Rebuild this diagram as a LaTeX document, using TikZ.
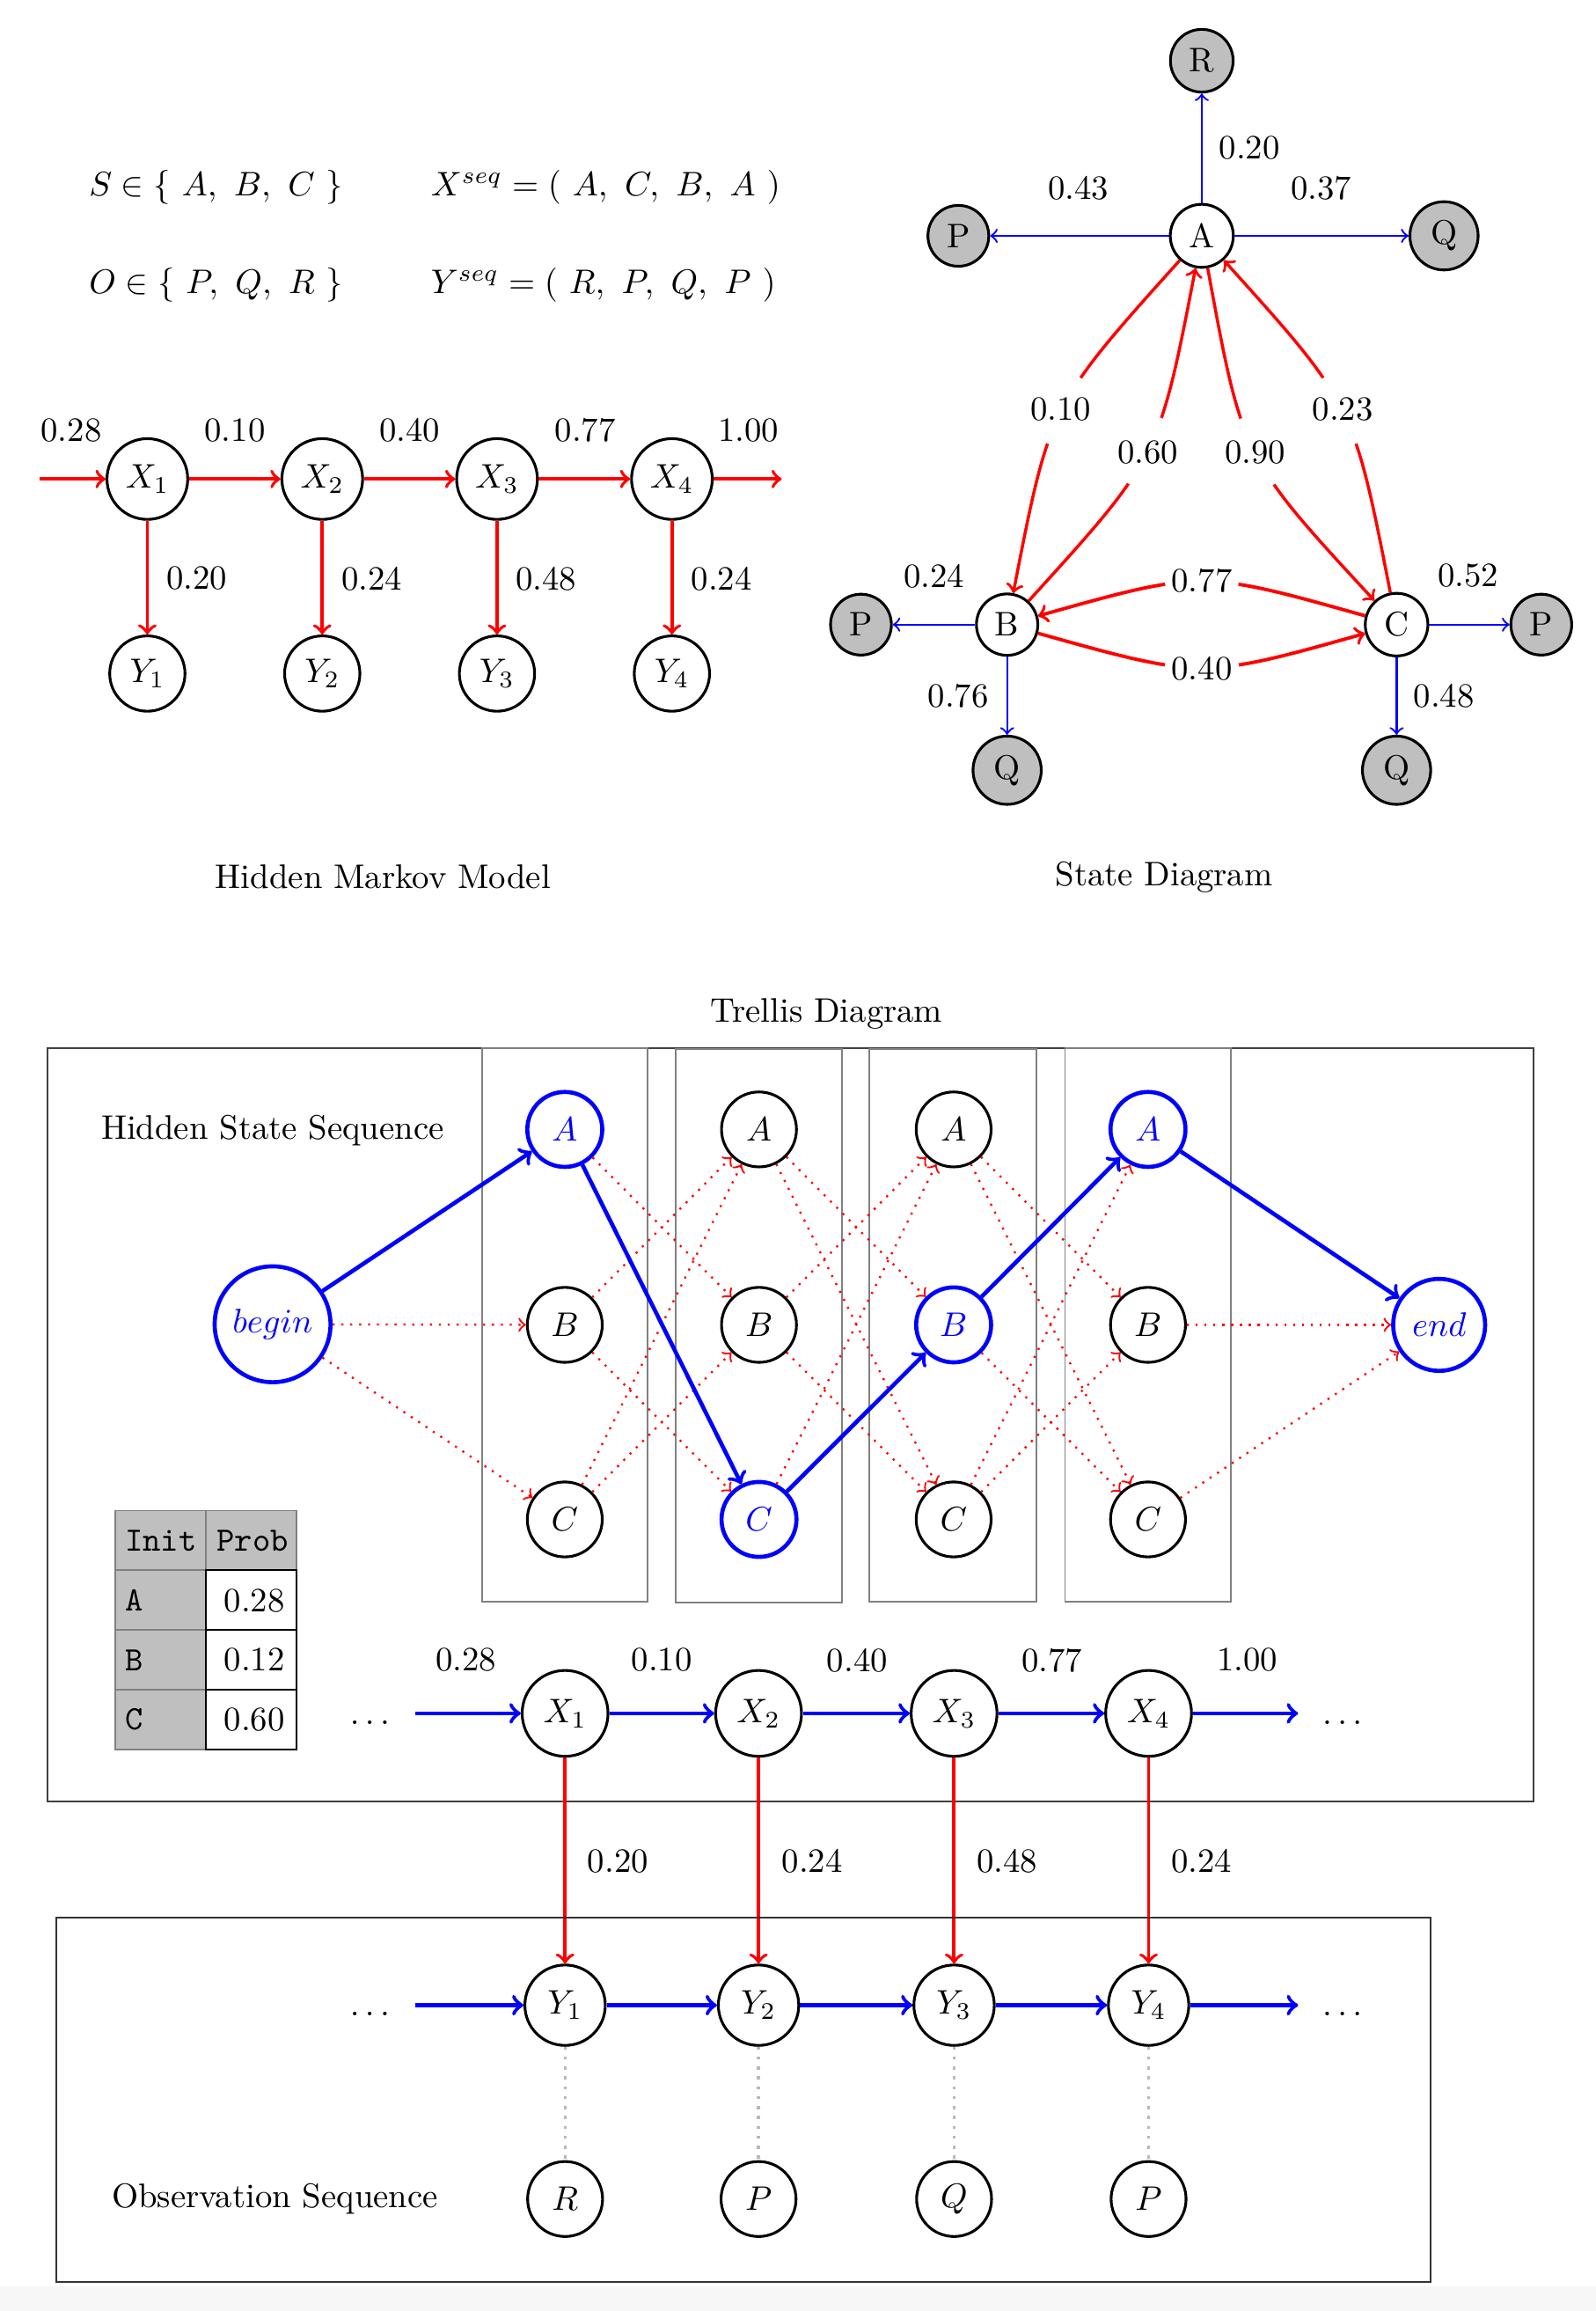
\documentclass[tikz,border=0pt]{standalone}
\begin{document}
\begin{tikzpicture}[x=0.4325pt,y=-0.4325pt,
  hx/.style={circle,draw,thick,minimum size=23.7pt,inner sep=0pt},
  hy/.style={circle,draw,thick,minimum size=22.1pt,inner sep=0pt},
  sd/.style={circle,draw,thick,inner sep=2.9pt},
  sg/.style={sd,fill=lightgray},
  tn/.style={circle,draw,thick,minimum size=22pt,inner sep=0pt},
  tb/.style={tn,draw=blue,text=blue,line width=1.2pt},
  tx/.style={circle,draw,thick,minimum size=25.2pt,inner sep=0pt},
  ty/.style={circle,draw,thick,minimum size=23.6pt,inner sep=0pt},
  redarr/.style={->,red,line width=1pt},
  sblue/.style={->,blue,semithick},
  tblue/.style={->,blue,line width=1.2pt},
  dotarr/.style={->,red,dotted,semithick},
  clbl/.style={circle,fill=white,inner sep=1pt},
  colbox/.style={draw=gray,line width=0.5pt},
  obsline/.style={gray!55,dotted,line width=0.9pt},
  eqn/.style={anchor=base west,inner sep=0pt},
  dotsn/.style={inner sep=0pt},
]
\useasboundingbox (0,0) rectangle (1083,1568);
\fill[black!3] (0,1551) rectangle (1083,1568);

% ---------- equations ----------
\node[eqn] (eqS) at (60,133) {$S \in \{\ A,\ B,\ C\ \}$};
\node[eqn] (eqX) at (292,133) {$X^{seq} = (\ A,\ C,\ B,\ A\ )$};
\node[eqn] (eqO) at (60,199) {$O \in \{\ P,\ Q,\ R\ \}$};
\node[eqn] (eqY) at (292,199) {$Y^{seq} = (\ R,\ P,\ Q,\ P\ )$};

% ---------- Hidden Markov Model ----------
\foreach \i/\x in {1/100,2/218.7,3/337.3,4/456} {
  \node[hx] (hX\i) at (\x,325) {$X_\i$};
  \node[hy] (hY\i) at (\x,457) {$Y_\i$};
}
\coordinate (hs) at (26.7,325);
\coordinate (he) at (530.5,325);
\draw[redarr] (hs) -- (hX1);
\foreach \i/\j in {1/2,2/3,3/4} \draw[redarr] (hX\i) -- (hX\j);
\draw[redarr] (hX4) -- (he);
\foreach \i in {1,...,4} \draw[redarr] (hX\i) -- (hY\i);
\foreach \x/\lab [count=\k] in {48.4/0.28,159.4/0.10,278/0.40,397.2/0.77,508/1.00}
  \node (hlt\k) at (\x,292) {\lab};
\foreach \x/\lab [count=\k] in {133.6/0.20,252.4/0.24,370.5/0.48,489.8/0.24}
  \node (hlv\k) at (\x,392.5) {\lab};
\node (hmmtitle) at (260,595) {Hidden Markov Model};

% ---------- State Diagram ----------
\node[sd] (sA) at (815.6,160) {A};
\node[sg] (sR) at (815.6,41.2) {R};
\node[sg] (sPA) at (650.4,160) {P};
\node[sg] (sQA) at (980,160) {Q};
\node[sd] (sB) at (683.5,423.8) {B};
\node[sd] (sC) at (947.8,423.8) {C};
\node[sg] (sPB) at (584.3,423.8) {P};
\node[sg] (sQB) at (683.5,522.6) {Q};
\node[sg] (sPC) at (1046,423.8) {P};
\node[sg] (sQC) at (947.8,522.6) {Q};

\draw[sblue] (sA) -- (sR);
\draw[sblue] (sA) -- (sPA);
\draw[sblue] (sA) -- (sQA);
\draw[sblue] (sB) -- (sPB);
\draw[sblue] (sB) -- (sQB);
\draw[sblue] (sC) -- (sPC);
\draw[sblue] (sC) -- (sQC);
\node (slAR) at (848,100.5) {0.20};
\node (slAP) at (732,127.4) {0.43};
\node (slAQ) at (896.7,127.4) {0.37};
\node (slBP) at (634,390.7) {0.24};
\node (slBQ) at (650.4,472.4) {0.76};
\node (slCP) at (996.5,390.7) {0.52};
\node (slCQ) at (979.9,472.4) {0.48};

\draw[redarr,line width=0.9pt] (sA) .. controls (712.5,274.7) .. (sB);
\draw[redarr,line width=0.9pt] (sB) .. controls (786.5,310.5) .. (sA);
\draw[redarr,line width=0.9pt] (sA) .. controls (843.3,310.8) .. (sC);
\draw[redarr,line width=0.9pt] (sC) .. controls (918.5,274.1) .. (sA);
\draw[redarr] (sC) .. controls (815.6,386.7) .. (sB);
\draw[redarr] (sB) .. controls (815.8,460.8) .. (sC);
\node[clbl] (slAB) at (720,277.6) {0.10};
\node[clbl] (slBA) at (779,306.9) {0.60};
\node[clbl] (slAC) at (852,307) {0.90};
\node[clbl] (slCA) at (911.3,277.6) {0.23};
\node[clbl] (slCB) at (815.6,393.8) {0.77};
\node[clbl] (slBC) at (815.6,453.5) {0.40};
\node (sdtitle) at (790,595) {State Diagram};

% ---------- Trellis Diagram ----------
\node (trtitle) at (561,688) {Trellis Diagram};
\draw[black!75,line width=0.5pt] (32.5,711) rectangle (1040.5,1222.5);
\draw[colbox] (327.3,711) rectangle (439.7,1086.6);
\draw[colbox] (458.5,711.6) rectangle (571.4,1087.2);
\draw[colbox] (590.2,711.6) rectangle (703.6,1086.6);
\draw[colbox] (722.8,711) rectangle (835.5,1086.6);

\node (hss) at (185,767) {Hidden State Sequence};

\node[tb] (tA1) at (383.3,766.3) {$A$};
\node[tn] (tB1) at (383.3,898.9) {$B$};
\node[tn] (tC1) at (383.3,1030.9) {$C$};
\node[tn] (tA2) at (515.1,766.3) {$A$};
\node[tn] (tB2) at (515.1,898.9) {$B$};
\node[tb] (tC2) at (515.1,1030.9) {$C$};
\node[tn] (tA3) at (647.2,766.3) {$A$};
\node[tb] (tB3) at (647.2,898.9) {$B$};
\node[tn] (tC3) at (647.2,1030.9) {$C$};
\node[tb] (tA4) at (779.1,766.3) {$A$};
\node[tn] (tB4) at (779.1,898.9) {$B$};
\node[tn] (tC4) at (779.1,1030.9) {$C$};
\node[tb,minimum size=34pt] (tbegin) at (185,898.5) {$begin$};
\node[tb,minimum size=27pt] (tend) at (976.7,898.9) {$end$};

\draw[dotarr] (tbegin) -- (tB1);
\draw[dotarr] (tbegin) -- (tC1);
\draw[dotarr] (tA1) -- (tB2);
\draw[dotarr] (tB1) -- (tA2);
\draw[dotarr] (tB1) -- (tC2);
\draw[dotarr] (tC1) -- (tA2);
\draw[dotarr] (tC1) -- (tB2);
\draw[dotarr] (tA2) -- (tB3);
\draw[dotarr] (tA2) -- (tC3);
\draw[dotarr] (tB2) -- (tA3);
\draw[dotarr] (tB2) -- (tC3);
\draw[dotarr] (tC2) -- (tA3);
\draw[dotarr] (tA3) -- (tB4);
\draw[dotarr] (tA3) -- (tC4);
\draw[dotarr] (tB3) -- (tC4);
\draw[dotarr] (tC3) -- (tA4);
\draw[dotarr] (tC3) -- (tB4);
\draw[dotarr] (tB4) -- (tend);
\draw[dotarr] (tC4) -- (tend);

\draw[tblue] (tbegin) -- (tA1);
\draw[tblue] (tA1) -- (tC2);
\draw[tblue] (tC2) -- (tB3);
\draw[tblue] (tB3) -- (tA4);
\draw[tblue] (tA4) -- (tend);

% table
\draw[draw=gray,fill=lightgray,line width=0.5pt] (78.1,1024.9) rectangle (139.6,1065.3);
\draw[draw=gray,fill=lightgray,line width=0.5pt] (139.6,1024.9) rectangle (201.1,1065.3);
\draw[draw=gray,fill=lightgray,line width=0.5pt] (78.1,1065.3) rectangle (139.6,1105.8);
\draw[draw=gray,fill=lightgray,line width=0.5pt] (78.1,1105.8) rectangle (139.6,1146.3);
\draw[draw=gray,fill=lightgray,line width=0.5pt] (78.1,1146.3) rectangle (139.6,1186.9);
\draw[draw=black,fill=white,line width=0.5pt] (139.6,1065.3) rectangle (201.1,1105.8);
\draw[draw=black,fill=white,line width=0.5pt] (139.6,1105.8) rectangle (201.1,1146.3);
\draw[draw=black,fill=white,line width=0.5pt] (139.6,1146.3) rectangle (201.1,1186.9);
\node (tabh1) at (109.2,1045.5) {\texttt{Init}};
\node (tabh2) at (171.4,1045.5) {\texttt{Prob}};
\node (tabA) at (91.2,1086) {\texttt{A}};
\node (tabB) at (91.2,1126.4) {\texttt{B}};
\node (tabC) at (91.2,1166.6) {\texttt{C}};
\node (tabpA) at (172.7,1086) {0.28};
\node (tabpB) at (172.7,1126.4) {0.12};
\node (tabpC) at (172.7,1166.6) {0.60};

% X row
\foreach \i/\x in {1/383.5,2/514.8,3/647.5,4/779.5} {
  \node[tx] (tX\i) at (\x,1162.5) {$X_\i$};
  \node[ty] (tY\i) at (\x,1360.5) {$Y_\i$};
}
\node[tn] (tO1) at (383.5,1492) {$R$};
\node[tn] (tO2) at (514.8,1492) {$P$};
\node[tn] (tO3) at (647.5,1492) {$Q$};
\node[tn] (tO4) at (779.5,1492) {$P$};

\coordinate (xs) at (282,1162.5);
\coordinate (xe) at (881,1162.5);
\coordinate (ys) at (282,1360.5);
\coordinate (ye) at (881,1360.5);
\node[dotsn] (xdl) at (251,1168.5) {$\dots$};
\node[dotsn] (xdr) at (911,1168.5) {$\dots$};
\node[dotsn] (ydl) at (251,1366.5) {$\dots$};
\node[dotsn] (ydr) at (911,1366.5) {$\dots$};

\draw[tblue] (xs) -- (tX1);
\draw[tblue] (ys) -- (tY1);
\foreach \i/\j in {1/2,2/3,3/4} {
  \draw[tblue] (tX\i) -- (tX\j);
  \draw[tblue] (tY\i) -- (tY\j);
}
\draw[tblue] (tX4) -- (xe);
\draw[tblue] (tY4) -- (ye);
\foreach \x/\lab [count=\k] in {316.4/0.28,449.1/0.10,581.8/0.40,713.8/0.77,846.5/1.00}
  \node (txl\k) at (\x,1126.4) {\lab};

\foreach \i in {1,...,4} {
  \draw[redarr] (tX\i) -- (tY\i);
  \draw[obsline] (tY\i) -- (tO\i);
}
\foreach \x/\lab [count=\k] in {419.4/0.20,551.2/0.24,683.4/0.48,815.4/0.24}
  \node (tvl\k) at (\x,1262.7) {\lab};

\draw[black!80,line width=0.5pt] (38,1301.2) rectangle (970.8,1548.3);
\node (obsseq) at (186.6,1492) {Observation Sequence};
\end{tikzpicture}
\end{document}
